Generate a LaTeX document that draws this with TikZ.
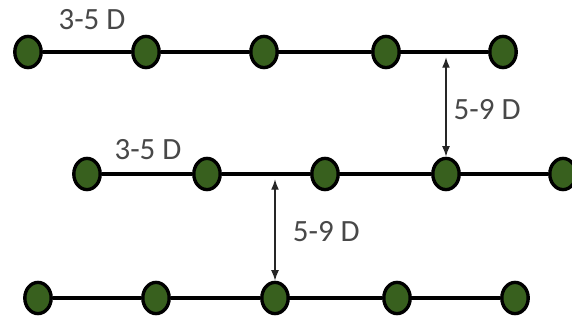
\documentclass[tikz,border=0pt]{standalone}
\usepackage{fontspec}
\setmainfont{Carlito}
\usepackage{tikz}
\usetikzlibrary{positioning, arrows.meta, shapes.geometric}
\definecolor{nodegreen}{RGB}{56,96,30}
\definecolor{labelgray}{RGB}{72,72,72}
\newcommand{\nodecolor}{nodegreen}

\begin{document}
\begin{tikzpicture}[
      % GLOBAL CFG
      font=\fontsize{22}{26}\selectfont,
      >=LaTeX,
      % Styles
      unit/.style={% For the green units
        ellipse,
        draw,
        line width=2.4pt,
        fill=\nodecolor,
        minimum width=0.66cm,
        minimum height=0.78cm,
        inner sep=0pt
      },
      dist/.style={% For distance labels
        text=labelgray,
        inner sep=1pt
      },
      rowline/.style={% Lines between units
        line width=2.5pt
      },
      gap/.style={% Arrows between rows
        <->,
        line width=1pt,
        black!85
      }
      ]

      \useasboundingbox (0,0) rectangle (14.3,8);
      \clip (0,0) rectangle (14.3,8);

      % First row
      \node [unit] (r1a) at (0.7,6.7) {};
      \node [unit] (r1b) at (3.65,6.7) {};
      \node [unit] (r1c) at (6.6,6.7) {};
      \node [unit] (r1d) at (9.65,6.7) {};
      \node [unit] (r1e) at (12.575,6.7) {};
      \draw [rowline] (r1a) -- (r1b) -- (r1c) -- (r1d) -- (r1e);

      % Second row
      \node [unit] (r2a) at (2.175,3.65) {};
      \node [unit] (r2b) at (5.175,3.65) {};
      \node [unit] (r2c) at (8.125,3.65) {};
      \node [unit] (r2d) at (11.15,3.65) {};
      \node [unit] (r2e) at (14.075,3.65) {};
      \draw [rowline] (r2a) -- (r2b) -- (r2c) -- (r2d) -- (r2e);

      % Third row
      \node [unit] (r3a) at (0.95,0.55) {};
      \node [unit] (r3b) at (3.9,0.55) {};
      \node [unit] (r3c) at (6.875,0.55) {};
      \node [unit] (r3d) at (9.925,0.55) {};
      \node [unit] (r3e) at (12.875,0.55) {};
      \draw [rowline] (r3a) -- (r3b) -- (r3c) -- (r3d) -- (r3e);

      % Spacing labels
      \node [dist] (step1) at (2.3,7.5) {3-5 D};
      \node [dist] (step2) at (3.7,4.25) {3-5 D};

      % Row gaps
      \coordinate (gaptop) at (r2d |- r1a);
      \coordinate (gapbot) at (r3c |- r2a);
      \draw [gap, shorten <=1.3mm] (gaptop) -- (r2d);
      \draw [gap, shorten <=1.3mm] (gapbot) -- (r3c);
      \node [dist, anchor=west] (row1) at (11.3,5.25) {5-9 D};
      \node [dist, anchor=west] (row2) at (7.28,2.2) {5-9 D};

    \end{tikzpicture}
\end{document}
